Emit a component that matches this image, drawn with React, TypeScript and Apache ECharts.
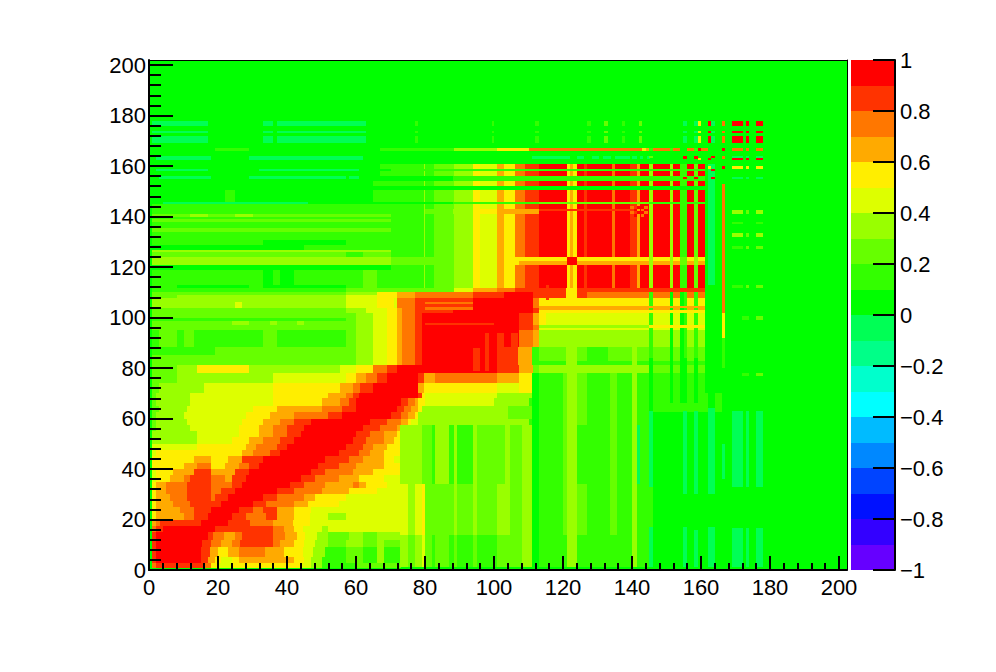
import React, { useEffect, useRef } from "react";
import * as echarts from "echarts";

// Colour levels: one character per 0.1 wide band of the palette, value = band centre.
const levelValues: Record<string, number> = {
  m: -0.15, n: -0.05, "0": 0.05, "1": 0.15, "2": 0.25, "3": 0.35, "4": 0.45,
  "5": 0.55, "6": 0.65, "7": 0.75, "8": 0.85, "9": 0.95,
};
const palette = [
  "#6600ff", "#3300ff", "#0011ff", "#0044ff", "#0088ff", "#00bbff", "#00ffff", "#00ffcc", "#00ff88", "#00ff55",
  "#00ff00", "#33ff00", "#66ff00", "#99ff00", "#ddff00", "#ffee00", "#ffaa00", "#ff7700", "#ff3300", "#ff0000",
];
const xTicks = [0, 20, 40, 60, 80, 100, 120, 140, 160, 180, 200];

// Upper-block tail of a row: "level:end" pairs along x
const T = " 1:79.6 3:80 1:82.5 2:88.3 3:94 5:96 4:100.8 6:102.8 5:106.1 7:107.1 7:109 8:112.9 9:121.1 5:122 6:123 5:124 9:126 8:127 9:134.2 7:135.1 9:139.5 8:141.4 6:142.4 9:145 3:146 9:151 3:152 9:154 1:156 9:158 2:159 9:161";
// Tail of the rows through the second block, x from 57 to the block's left edge
const B = " 2:60 3:65 4:69 5:72 6:73.3 7:77 8:79";

// Rows: [yFrom, yTo, "level:xEnd ..."]
const lowerRows: [number, number, string][] = [
  [0.7, 2.6, "0:1 7:2 8:16 7:18 5:20 4:24 5:44 4:47 3:50 1:60 2:73"],
  [2.6, 5.2, "0:1 8:2 9:15 8:17 6:19 5:21 4:24 5:26 6:42 5:45 4:47 3:50 1:57 2:62 1:66 3:68 1:73"],
  [5.2, 9, "0:1 8:2 9:15 8:17.7 6:20 5:23 6:26 7:33.6 6:39 5:44.7 4:47.6 3:51 1:57 2:62 1:66 3:68 1:73"],
  [9, 12, "0:1 8:2 9:15.5 8:18 7:21 6:24 7:26.5 8:36 7:38 6:42 5:45 4:48 3:52 2:57 3:62 2:66 3:68 2:73"],
  [12, 15, "0:1 8:2 9:17 8:18.5 7:21.6 6:25 7:27 8:36 7:39.4 6:42.8 5:45.2 4:48.6 3:52 2:58 3:62 2:66 3:73"],
  [15, 17.5, "0:1 7:2 8:4 9:19 8:36 7:39 6:42 5:44.5 4:50 3:52 4:73"],
  [17.5, 20, "0:1 6:2 7:3.2 8:15 9:23 8:29.3 7:36 6:41.8 5:46.7 4:73"],
  [20, 22.5, "0:1 5:2 6:10 7:13 8:17 9:24 8:28 7:34 8:37 6:42 5:46.7 4:52 3:57 4:73"],
  [22.5, 25, "0:1 5:2 6:9 7:13 8:18 9:26 8:30 7:33 8:37 6:42 5:47 4:73"],
  [25, 27.5, "0:1 5:2 6:7 7:12 8:21 9:30 8:34 7:42 6:46 5:55 4:73"],
  [27.5, 30, "0:1 5:2 6:6 7:11 8:18 7:19 8:23 9:33 8:37 7:45 6:48 5:57 4:73"],
  [30, 32.5, "0:1 5:2 6:5 7:11 8:18 7:21 8:25 9:37 8:42 7:50 6:58 5:66 4:73"],
  [32.5, 35, "0:1 5:2 6:5 7:11 8:18 7:24 8:27 9:41 8:45 7:51 6:59 7:61 6:63 5:69 4:73"],
  [35, 37.5, "0:1 4:2 5:6 6:10 7:12 8:18 7:22 6:24 8:28 9:44 8:48 7:55 6:61 5:68 4:73"],
  [37.5, 40, "0:1 4:2 5:7 6:13 8:18 6:25 8:29 9:47 8:51 7:59 6:65 5:73"],
  [40, 42.5, "0:1 5:10 6:14 7:18 5:22 6:26 7:29 8:32 9:49 8:55 7:60 6:68 5:73"],
  [42.5, 45, "0:1 5:13 6:18 5:23 6:27 8:33 9:51 8:58 7:62 6:68 5:71 4:73"],
  [45, 47.5, "0:1 4:2 5:27 6:30 7:35 8:38 9:55 8:61 7:64 6:68 5:73"],
  [47.5, 50, "0:1 4:14 5:28 6:31 7:37 8:40 9:57 8:62 7:65 6:69 5:73"],
  [50, 52.5, "0:1 3:14 4:24 5:29 6:33 7:38 8:42 9:59 8:63 7:68 6:71 5:73"],
  [52.5, 55, "0:1 3:14 4:26 5:32 6:36 7:40 8:44 9:60 8:64 7:68 6:72 5:73"],
  [55, 57.5, "0:1 2:2 3:12 4:26 5:32 6:36 7:40 8:45 9:62 8:67 7:72 6:73"],
  [57.5, 60, "0:1 2:2 3:11 4:27 5:33 6:38 7:42 8:47 9:64 8:69 7:73 6:75 5:76 4:78 3:110 1:146"],
  [60, 62.5, "0:1 2:2 3:10 4:28 5:35 6:42 7:52 8:56 9:70 8:73 7:75 6:77 5:78 3:104 2:111 1:146"],
  [62.5, 65, "0:1 2:3 3:11 4:30 5:37 6:50 7:56 8:60 9:72 8:74 7:76 6:78 5:79 3:104 2:111 1:166"],
  [65, 68, "0:1 2:2 3:11.9 4:36 5:50 6:55.4 7:58 8:60 9:73 8:75 7:77 6:78 5:80 4:100 3:110 1:166"],
  [68, 70, "0:1 2:2 3:12 4:36 5:52 6:57 7:59 8:61 9:78 8:79 5:80 4:100.8 3:111 1:166"],
  [70, 74, "0:1 2:3 3:16 4:36 5:55.4 6:59.2 7:61.2 8:65 9:78 6:79.6 5:100.8 4:107.1 5:111.4 2:115 1:161"],
  [74, 78, "0:1 2:8 3:36 4:57 5:60 6:63 7:66 8:69 9:78.1 8:79.6 6:83 7:100.8 6:107.1 5:111.4 3:115 2:124 1:161"],
  [78, 81, "0:1 2:8 3:14 5:29 3:55.4 4:60 5:65 7:69 8:72 9:100.8 8:107.1 6:111.4 2:113 3:145 2:161"],
  [81, 82.9, "0:1 2:57" + B + " 9:100.8 8:107 6:111.4 1:161"],
  [82.9, 85, "0:1 2:57" + B + " 9:100.8 8:107 6:111.4 3:113 2:161"],
  [85, 88.5, "0:1 1:19 2:57" + B + " 9:100.8 8:107 6:111.4 3:113 2:161"],
  [88.5, 95, "0:1 1:3 2:8 1:10 2:13 1:33 2:37 1:57" + B + " 9:107.1 7:111.4 6:113 3:161"],
  [95, 97, "0:1 2:57" + B + " 9:107.1 8:111.4 7:113 4:161"],
  [97, 98.5, "0:1 2:24 3:29 2:35 3:37 2:43 3:45 2:57" + B + " 9:107.1 8:111.4 6:113 5:115 4:161"],
  [98.5, 100, "0:1 1:57" + B + " 9:107.1 8:111.4 6:113 5:115 4:161"],
  [100, 101.7, "0:1 2:57" + B + " 9:107.1 8:111.4 6:113 5:115 4:161"],
  [101.7, 103.7, "0:1 2:57 3:63 4:69 5:71.8 6:73.3 7:77 8:88 9:111.4 8:113 6:161"],
  [103.7, 106, "0:1 3:25 4:27 3:57 4:66 5:71 4:71.8 7:77 8:94 9:111.4 7:113 5:161"],
  [106, 107.6, "0:1 3:57 4:66 5:71 4:71.8 7:77 8:94 9:111.4 7:113 5:161"],
  [107.6, 109, "0:1 2:8 3:57 4:66 5:71.8 6:77 7:94 8:102.8 9:111.4 8:121 5:124 8:126.9 7:161"],
  [109, 110, "0:1 2:57 3:66 5:71.8 6:77 7:94 8:102.8 9:111.4 8:121 5:124 8:126.9 7:161"],
  [110, 111.5, "0:1 1:57 2:88.3 4:94 6:100.8 7:106 8:111.4 8:121 5:124 8:161"],
];
const upperRows: [number, number, string][] = [
  [111.5, 113, "0:1 1:8 0:29 1:33 0:57 1:62 2:66 1:70" + T],
  [113, 119, "0:1 1:33 0:36 1:38 0:42 1:57 1:62 2:66 1:70" + T],
  [119, 120.8, "0:70" + T],
  [120.8, 122.5, "0:1 3:70 2:88.3 3:94 5:96 4:100.8 6:102.8 5:107.1 6:121.1 9:124 6:145 3:146 6:151 3:152 6:154 2:156 6:158 3:159 6:161"],
  [122.5, 124, "0:1 3:70 2:88.3 3:94 5:96 4:100.8 6:102.8 5:121.1 9:124 5:145 3:146 5:151 3:152 5:154 2:156 5:158 3:159 5:161"],
  [124, 126, "0:1 2:57 1:62 2:70" + T],
  [126, 126.8, "0:1 3:70" + T],
  [126.8, 128.8, "0:1 0:45 1:70" + T],
  [128.8, 130.7, "0:1 1:33 0:57 1:70" + T],
  [130.7, 134, "0:1 1:70" + T],
  [134, 135.5, "0:1 2:70" + T],
  [135.5, 138, "0:1 1:70" + T],
  [138, 139, "0:1 2:70" + T],
  [139, 140, "0:1 1:70" + T],
  [140, 141, "0:1 2:12 3:17 2:25 3:30 2:70" + T],
  [141, 145, "0:1 1:70" + T],
  [145, 145.8, "0:88 1:112.9 2:145 1:161"],
  [145.8, 150.7, "0:22 1:25 0:65 1:70" + T],
  [152, 154, "0:65 1:70" + T],
  [154, 156, "0:88 1:161"],
  [156, 158, "0:67 1:70" + T],
  [158, 159, "0:70 1:161"],
  [159, 161, "0:67 1:70" + T],
  [166, 167, "0:67 1:88.3 3:100.8 5:110 7:142.8 5:144 6:145 1:146 7:151 1:152 7:154 0:156 7:158 1:159 9:160 7:161 7:162"],
];

// Columns right of the diagonal: x edges, then one level per column for each y band
const columnEdges = [72.8, 75.2, 77.1, 79.1, 80, 82, 83, 87, 88.3, 89.2, 94, 95, 100.8, 103.2, 104.7, 108, 111, 112.9, 120.1, 121.1, 124, 126.9, 133.7, 135.6, 140, 141.4, 142.4, 145, 146, 166];
const columnsBand1 = "3234212121212223" + "0113" + "1111" + "3" + "11" + "n0"; // y 1 - 14
const columnsBand2 = "4345222232323323" + "0123" + "2121" + "3" + "11" + "10"; // y 14 - 34
const columnsBand3 = "3332213131322323" + "0123" + "1121" + "3" + "n1" + "n0"; // y 34 - 57.5
const columnsBand4 = "................" + "0123" + "2121" + "3" + "11" + "0."; // y 57.5 - 78

// Vertical stripes: [xFrom, xTo, yFrom, yTo, level]
const sideStripes: [number, number, number, number, string][] = [
  [145, 146, 1, 17, "n"], [145, 146, 33, 42, "n"], [145, 146, 48, 63, "n"],
  [154.9, 156, 1, 17, "n"], [154.9, 156, 30, 63, "n"],
  [158, 159, 1, 16, "n"], [158, 159, 30, 63, "n"],
  [162, 164, 1, 17, "n"], [162, 164, 30, 64, "n"],
  [169, 172.2, 1, 16.5, "n"], [169, 172.2, 33, 63, "n"],
  [173, 174, 1, 16.5, "n"], [173, 174, 33, 63, "n"],
  [176, 178, 1, 16.5, "n"], [176, 178, 33, 63, "n"],
  [166, 167, 36, 50, "n"],
  [121, 124, 78, 88.5, "3"], [140, 141.4, 78, 88.5, "3"], [111, 113, 81, 88.5, "1"], [127, 133, 81, 88.5, "1"],
  [145, 146, 84, 110, "1"], [151, 152, 84, 110, "0"], [154, 155, 84, 110, "0"], [155, 156, 84, 110, "1"], [158, 159, 84, 110, "1"],
  [145, 146, 66, 84, "0"], [151, 152, 66, 84, "0"], [154, 156, 66, 84, "0"], [158, 159, 66, 84, "0"],
  [162, 164, 64, 100, "0"], [162, 164, 113, 134, "n"], [162, 164, 134, 161, "n"],
  [166, 167, 101.7, 134, "7"], [166, 167, 134, 153, "7"], [166, 167, 92, 101.7, "5"], [166, 167, 80, 92, "1"],
  [94, 96, 79, 88, "8"], [97.5, 98.5, 79, 94, "8"], [101, 103, 78, 94, "8"], [105, 107, 80, 94, "8"],
  [115, 116, 107, 113, "8"],
];

// Horizontal stripes: [xFrom, xTo, yFrom, yTo, level]
const crossStripes: [number, number, number, number, string][] = [
  [1, 17.2, 175.8, 177.8, "n"], [33, 36, 175.8, 177.8, "n"], [37.2, 62.9, 175.8, 177.8, "n"],
  [1, 17.2, 173, 174, "n"], [33, 36, 173, 174, "n"], [37.2, 62.9, 173, 174, "n"],
  [1, 17.2, 169.2, 171.8, "n"], [33, 36, 169.2, 171.8, "n"], [37.2, 62.9, 169.2, 171.8, "n"],
  [2, 18, 162.2, 164, "n"], [29, 62, 162.2, 164, "n"],
  [2, 17.2, 158, 158.8, "n"], [32, 61, 158, 158.8, "n"],
  [3, 18, 154.7, 156, "n"], [29, 57, 154.7, 156, "n"], [58, 61, 154.7, 156, "n"],
  [4, 46, 145, 145.8, "n"],
  [19, 29, 166, 167, "1"], [67, 70, 166, 167, "1"],
  [111, 122, 162.6, 164, "n"], [124, 126, 162.6, 164, "n"], [128.4, 130.3, 162.6, 164, "n"], [131.7, 134, 162.6, 164, "n"], [135, 139.5, 162.6, 164, "n"], [140, 141.4, 162.6, 164, "n"], [142.4, 143.3, 162.6, 164, "n"], [144.3, 145.3, 162.6, 164, "n"],
  [113, 145, 96, 97, "3"], [145, 161, 96, 97, "5"], [113, 161, 103.7, 104.7, "6"], [113, 161, 101.7, 103, "5"],
  [80, 94, 103, 104, "7"], [80, 100, 97, 98, "8"], [80, 94, 105.5, 106.3, "7"],
  [80, 88, 141, 143, "2"], [88, 94, 141, 143, "3"], [94, 100.8, 141, 143, "5"], [100.8, 112.9, 141, 143, "6"], [112.9, 140, 142.3, 143, "8"],
];

// Crossing bands of the upper right corner: y bands, and [xFrom, xTo, level] per band
const farBandsA: [number, number][] = [[175.8, 177.8], [173, 174], [169.2, 171.8]];
const farCellsA: [number, number, string][] = [
  [77, 78, "1"], [99.4, 100, "1"], [112, 113, "1"], [127, 128, "1"], [132, 133, "2"], [137, 138, "1"], [142, 143, "2"],
  [154.9, 156, "n"], [158, 159, "n"], [159, 160, "5"], [162, 162.8, "9"], [162.8, 164, "n"], [166, 167, "7"], [169, 172.2, "9"], [173, 174, "9"], [176, 178, "9"],
];
const farCellsB: [number, number, number, number, string][] = [
  [166.5, 169, 166, 167, "0"], [169, 172.2, 166, 167, "7"], [173, 174, 166, 167, "7"], [176, 178, 166, 167, "7"], [166, 167, 166, 167, "9"],
  [145, 146, 163, 164, "2"], [154.9, 156, 162.6, 164, "9"], [158, 159, 162.6, 164, "9"], [159, 160, 162.2, 163, "5"], [162, 163, 162.4, 163.2, "9"], [163, 164, 163, 164, "9"], [166, 167, 162.6, 164, "7"],
  [169, 172.2, 163, 164, "n"], [169, 172.2, 162.2, 163, "9"], [173, 174, 163, 164, "n"], [173, 174, 162.2, 163, "9"], [176, 178, 163, 164, "n"], [176, 178, 162.2, 163, "9"],
  [162, 163, 159, 160, "5"], [163, 164, 158, 159, "9"], [166, 167, 158.8, 160, "9"], [169, 172.2, 158.8, 160, "5"], [173, 174, 158.8, 160, "5"], [176, 178, 158.8, 160, "5"],
  [154.9, 156, 154.7, 155.7, "9"], [158, 159, 154.7, 155.7, "9"], [163, 164, 154.7, 155.7, "9"], [169, 172.2, 154.7, 155.7, "n"], [173, 174, 154.7, 155.7, "n"], [176, 178, 154.7, 155.7, "n"],
  [169, 172.2, 141, 142.5, "3"], [173, 174, 141, 142.5, "2"], [176, 178, 141, 142.5, "3"],
  [169, 172.2, 137, 138, "1"], [176, 178, 137, 138, "1"],
  [169, 172.2, 132, 133.3, "3"], [173, 174, 132, 133.3, "2"], [176, 178, 132, 133.3, "3"],
  [169, 172.2, 127, 128.2, "1"], [173, 174, 127, 128.2, "2"], [176, 178, 127, 128.2, "2"],
  [169, 172.2, 111.8, 113, "1"], [173, 174, 111.8, 113, "2"], [176, 178, 111.8, 113, "2"],
  [172, 174, 99, 100.5, "1"], [176, 178, 99, 100.5, "2"],
  [172, 174, 77, 78, "1"], [176, 178, 77, 78, "2"],
  [139.5, 140.5, 143, 144, "7"], [141.5, 142.5, 143, 144, "9"], [143.5, 144.5, 143, 144, "7"],
  [140.5, 141.5, 142, 143, "9"], [142.5, 143.5, 142, 143, "7"], [144, 145, 142, 143, "9"],
  [139.5, 140.5, 141, 142, "7"], [141.5, 142.5, 141, 142, "9"], [143.5, 144.5, 141, 142, "7"],
  [140.5, 141.5, 140, 141, "9"], [142.5, 143.5, 140, 141, "7"], [144, 145, 140, 141, "9"],
];

const X_MAX = 202.3;
const Y_MAX = 202;

function parseRows(rows: [number, number, string][]) {
  const out: number[][] = [];
  rows.forEach(([y0, y1, runs]) => {
    let x = 0;
    runs.trim().split(/\s+/).forEach((r) => {
      const [lvl, end] = r.split(":");
      out.push([x, Number(end), y0, y1, levelValues[lvl]]);
      x = Number(end);
    });
  });
  return out;
}

function buildCells() {
  const cells: number[][] = [[0, X_MAX, 0, Y_MAX, levelValues["0"]]];
  cells.push(...parseRows(lowerRows));
  const bands: [number, number, string][] = [
    [1, 14, columnsBand1], [14, 34, columnsBand2], [34, 57.5, columnsBand3], [57.5, 78, columnsBand4],
  ];
  bands.forEach(([y0, y1, lv]) => {
    for (let i = 0; i < columnEdges.length - 1; i++) {
      const c = lv[i];
      if (c && levelValues[c] !== undefined) cells.push([columnEdges[i], columnEdges[i + 1], y0, y1, levelValues[c]]);
    }
  });
  cells.push(...parseRows(upperRows));
  const add = (a: [number, number, number, number, string][]) =>
    a.forEach(([x0, x1, y0, y1, l]) => cells.push([x0, x1, y0, y1, levelValues[l]]));
  add(sideStripes);
  add(crossStripes);
  farBandsA.forEach(([y0, y1]) =>
    farCellsA.forEach(([x0, x1, l]) => cells.push([x0, x1, y0, y1, levelValues[l]])));
  add(farCellsB);
  return cells;
}

const colorOf = (v: number) => palette[Math.min(19, Math.max(0, Math.floor((v + 1) * 10 + 1e-6)))];
const FONT = "Liberation Sans";

export default function App() {
  const ref = useRef<HTMLDivElement>(null);
  useEffect(() => {
    document.body.style.margin = "0";
    const chart = echarts.init(ref.current!, undefined, { renderer: "svg" });
    const cells = buildCells();
    const paletteCells = palette.map((_, i) => [0, 1, (i - 10) / 10, (i - 9) / 10, (2 * i - 19) / 20]);
    const renderItem = (_: any, api: any) => {
      const a = api.coord([api.value(0), api.value(2)]);
      const b = api.coord([api.value(1), api.value(3)]);
      const x0 = Math.round(a[0]), x1 = Math.round(b[0]);
      const y0 = Math.round(a[1] + 1e-6), y1 = Math.round(b[1] + 1e-6);
      return {
        type: "rect",
        shape: { x: x0, y: y1, width: x1 - x0, height: y0 - y1 },
        style: { fill: colorOf(api.value(4)), stroke: "none" },
      };
    };
    const tickLabel = { fontFamily: FONT, fontSize: 22, color: "#000" };
    chart.setOption({
      animation: false,
      backgroundColor: "#fff",
      grid: [
        { left: 149, top: 60, width: 698, height: 510 },
        { left: 149, top: 65, width: 690, height: 505 },
        { left: 851, top: 60, width: 44, height: 510 },
      ],
      xAxis: [
        { type: "value", gridIndex: 0, min: 0, max: X_MAX, z: 6, position: "bottom", axisLine: { show: true, onZero: false, lineStyle: { color: "#000", width: 2 } }, axisTick: { show: false }, axisLabel: { show: false }, splitLine: { show: false } },
        { type: "value", gridIndex: 0, min: 0, max: X_MAX, z: 6, position: "top", axisLine: { show: true, onZero: false, lineStyle: { color: "#000", width: 1 } }, axisTick: { show: false }, axisLabel: { show: false }, splitLine: { show: false } },
        {
          type: "value", gridIndex: 1, min: xTicks[0], max: xTicks[xTicks.length - 1], interval: 20, z: 7, position: "bottom",
          axisLine: { show: false, onZero: false },
          axisTick: { show: true, inside: true, length: 14, lineStyle: { color: "#000", width: 2 } },
          minorTick: { show: true, splitNumber: 5, length: 7, lineStyle: { color: "#000", width: 2 } },
          axisLabel: { ...tickLabel, margin: 6 }, splitLine: { show: false },
        },
        { type: "value", gridIndex: 2, min: 0, max: 1, show: false },
      ],
      yAxis: [
        { type: "value", gridIndex: 0, min: 0, max: Y_MAX, z: 6, position: "left", axisLine: { show: true, onZero: false, lineStyle: { color: "#000", width: 2 } }, axisTick: { show: false }, axisLabel: { show: false }, splitLine: { show: false } },
        { type: "value", gridIndex: 0, min: 0, max: Y_MAX, z: 6, position: "right", axisLine: { show: true, onZero: false, lineStyle: { color: "#000", width: 1 } }, axisTick: { show: false }, axisLabel: { show: false }, splitLine: { show: false } },
        {
          type: "value", gridIndex: 1, min: xTicks[0], max: xTicks[xTicks.length - 1], interval: 20, z: 7, position: "left",
          axisLine: { show: false, onZero: false },
          axisTick: { show: true, inside: true, length: 24, lineStyle: { color: "#000", width: 2 } },
          minorTick: { show: true, splitNumber: 5, length: 12, lineStyle: { color: "#000", width: 2 } },
          axisLabel: { ...tickLabel, margin: 3 }, splitLine: { show: false },
        },
        {
          type: "value", gridIndex: 2, min: -1, max: 1, interval: 0.2, z: 7, position: "right",
          axisLine: { show: true, onZero: false, lineStyle: { color: "#000", width: 2 } },
          axisTick: { show: true, inside: true, length: 22, lineStyle: { color: "#000", width: 2 } },
          axisLabel: {
            ...tickLabel, margin: 5,
            formatter: (v: number) => {
              const r = Math.round(v * 10) / 10;
              return r < 0 ? "\u2212" + String(-r) : String(r);
            },
          },
          splitLine: { show: false },
        },
      ],
      series: [
        { type: "custom", xAxisIndex: 0, yAxisIndex: 0, renderItem, data: cells, encode: { x: [0, 1], y: [2, 3] }, silent: true, clip: true, progressive: 0 },
        { type: "custom", xAxisIndex: 3, yAxisIndex: 3, renderItem, data: paletteCells, encode: { x: [0, 1], y: [2, 3] }, silent: true },
      ],
    });
    return () => chart.dispose();
  }, []);
  return <div ref={ref} style={{ position: "fixed", left: 0, top: 0, width: 996, height: 672 }} />;
}
